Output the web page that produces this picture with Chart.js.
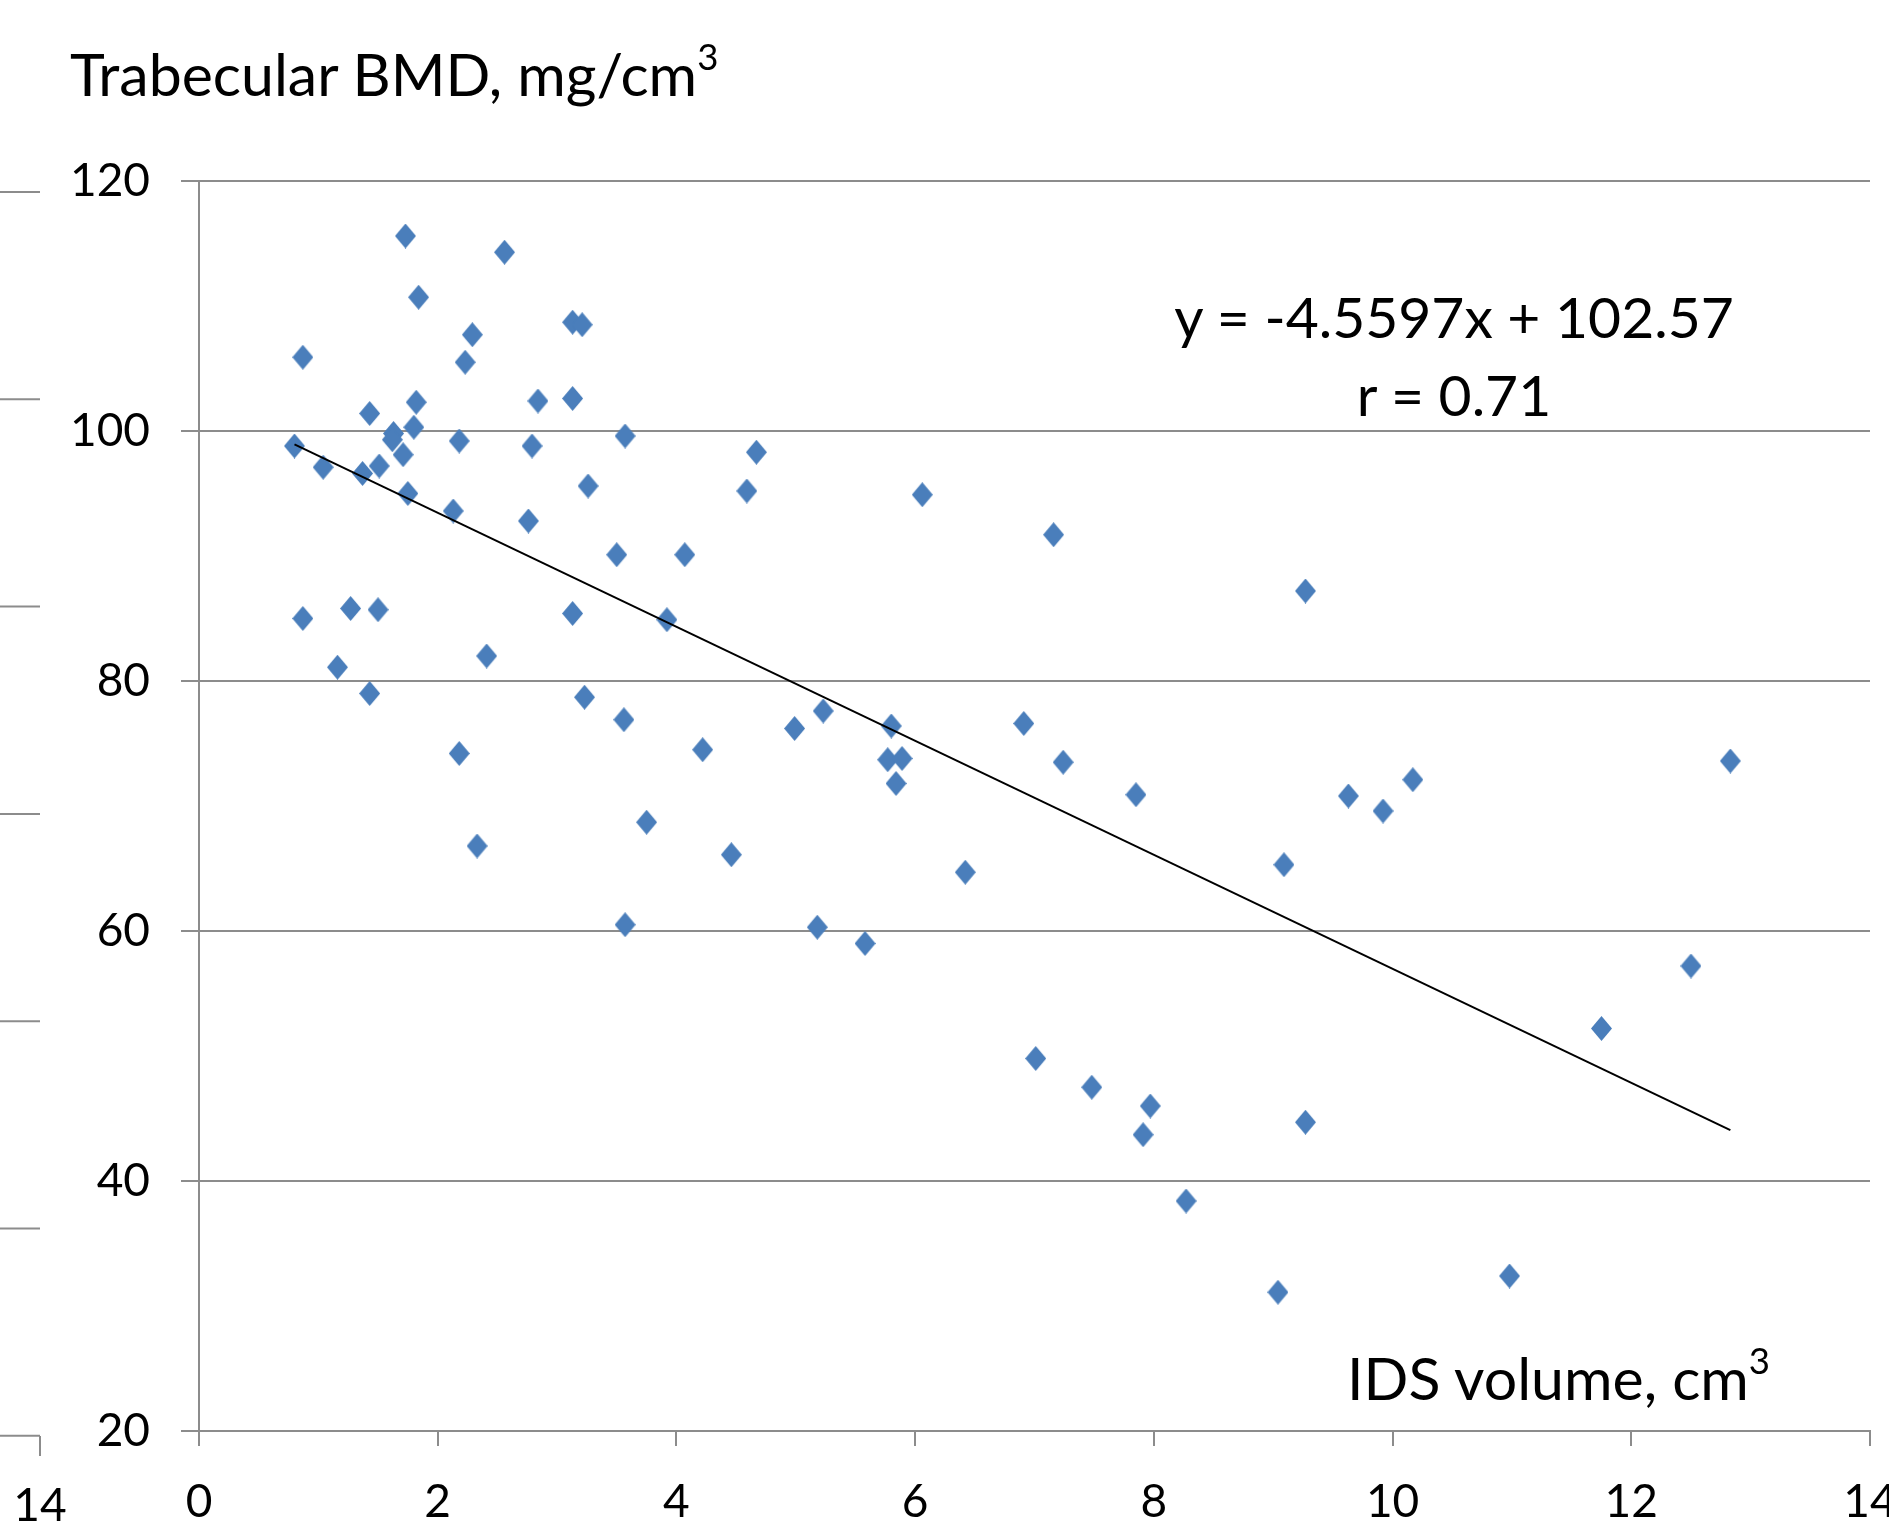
<!DOCTYPE html>
<html>
<head>
<meta charset="utf-8">
<script src="https://cdn.jsdelivr.net/npm/chart.js@4.4.0/dist/chart.umd.min.js"></script>
<style>
  html, body { margin: 0; padding: 0; background: #fff; }
  #wrap { position: relative; width: 1889px; height: 1523px; overflow: hidden; }
  #chart { position: absolute; left: 0; top: 0; }
  .lbl { position: absolute; font-family: Lato, "Open Sans", sans-serif; color: #000; white-space: nowrap; line-height: 1; }
  .lbl sup { font-size: 0.62em; vertical-align: 0.72em; line-height: 0; }
</style>
</head>
<body>
<div id="wrap">
  <canvas id="chart" width="1889" height="1523"></canvas>
  <div class="lbl" style="left:70px; top:44px; font-size:59px;">Trabecular BMD, mg/cm<sup>3</sup></div>
  <div class="lbl" style="left:1454px; top:277px; font-size:57px; line-height:78px; text-align:center; transform:translateX(-50%);">y = -4.5597x + 102.57<br>r = 0.71</div>
  <div class="lbl" style="left:1347px; top:1348px; font-size:59px;">IDS volume, cm<sup>3</sup></div>
  <div class="lbl" style="left:40px; top:1481px; font-size:46px; transform:translateX(-50%);">14</div>
</div>
<script>
// IDS volume (cm3) and trabecular BMD (mg/cm3)
const idsVolume = [
  0.80, 0.87, 0.87, 1.04, 1.16, 1.27, 1.37, 1.43, 1.43, 1.50,
  1.51, 1.63, 1.62, 1.71, 1.73, 1.75, 1.80, 1.82, 1.84, 2.13,
  2.18, 2.18, 2.23, 2.29, 2.33, 2.41, 2.56, 2.76, 2.79, 2.84,
  3.13, 3.21, 3.13, 3.13, 3.23, 3.26, 3.50, 3.57, 3.56, 3.57,
  3.75, 3.92, 4.07, 4.22, 4.46, 4.59, 4.67, 4.99, 5.18, 5.23,
  5.58, 5.77, 5.80, 5.89, 5.84, 6.06, 6.42, 6.91, 7.01, 7.16,
  7.24, 7.48, 7.85, 7.91, 7.97, 8.27, 9.04, 9.09, 9.27, 9.27,
  9.63, 9.92, 10.17, 10.98, 11.75, 12.50, 12.83
];
const trabBmd = [
  98.8, 105.9, 85.0, 97.1, 81.1, 85.8, 96.6, 101.4, 79.0, 85.7,
  97.2, 99.8, 99.3, 98.1, 115.6, 95.0, 100.3, 102.3, 110.7, 93.6,
  99.2, 74.2, 105.5, 107.7, 66.8, 82.0, 114.3, 92.8, 98.8, 102.4,
  108.7, 108.5, 102.6, 85.4, 78.7, 95.6, 90.1, 99.6, 76.9, 60.5,
  68.7, 84.9, 90.1, 74.5, 66.1, 95.2, 98.3, 76.2, 60.3, 77.6,
  59.0, 73.7, 76.4, 73.8, 71.8, 94.9, 64.7, 76.6, 49.8, 91.7,
  73.5, 47.5, 70.9, 43.7, 46.0, 38.4, 31.1, 65.3, 87.2, 44.7,
  70.8, 69.6, 72.1, 32.4, 52.2, 57.2, 73.6
];

// trend line from the equation printed on the chart
const slope = -4.5597;
const intercept = 102.57;
const trendX = [Math.min(...idsVolume), Math.max(...idsVolume)];
const trendY = trendX.map(x => slope * x + intercept);

const xTicks = [0, 2, 4, 6, 8, 10, 12, 14];
const yTicks = [20, 40, 60, 80, 100, 120];

const GRID = "#8c8c8c";
const BLUE = "#4a7ebb";

// diamond marker, a bit taller than wide like the Excel one
function makeDiamond(w, h, color) {
  const c = document.createElement("canvas");
  c.width = w; c.height = h;
  const g = c.getContext("2d");
  g.fillStyle = color;
  g.beginPath();
  g.moveTo(w / 2, 0);
  g.lineTo(w, h / 2);
  g.lineTo(w / 2, h);
  g.lineTo(0, h / 2);
  g.closePath();
  g.fill();
  return c;
}
const diamond = makeDiamond(21, 25, BLUE);

// leftover axis ticks from the chart behind (left strip)
const ghostAxis = {
  id: "ghostAxis",
  afterDraw(chart) {
    const ctx = chart.ctx;
    ctx.save();
    ctx.strokeStyle = GRID;
    ctx.lineWidth = 2;
    for (let i = 0; i < 7; i++) {
      const y = 192 + i * 207.3;
      ctx.beginPath();
      ctx.moveTo(0, y);
      ctx.lineTo(40, y);
      ctx.stroke();
    }
    ctx.beginPath();
    ctx.moveTo(40, 1436);
    ctx.lineTo(40, 1456);
    ctx.stroke();
    ctx.restore();
  }
};

const tickFont = { family: "Lato, 'Open Sans', sans-serif", size: 46 };

new Chart(document.getElementById("chart"), {
  type: "scatter",
  data: {
    datasets: [
      {
        data: idsVolume.map((x, i) => ({ x, y: trabBmd[i] })),
        pointStyle: diamond,
        pointRadius: 12,
        backgroundColor: BLUE,
        borderWidth: 0,
        order: 1
      },
      {
        type: "line",
        data: trendX.map((x, i) => ({ x, y: trendY[i] })),
        borderColor: "#000",
        borderWidth: 2,
        pointRadius: 0,
        fill: false,
        order: 0
      }
    ]
  },
  options: {
    responsive: false,
    animation: false,
    devicePixelRatio: 1,
    layout: { padding: { top: 181, right: 19, bottom: 0, left: 0 } },
    plugins: { legend: { display: false }, tooltip: { enabled: false } },
    scales: {
      x: {
        type: "linear",
        min: xTicks[0],
        max: xTicks[xTicks.length - 1],
        afterBuildTicks: s => { s.ticks = xTicks.map(v => ({ value: v })); },
        ticks: { font: tickFont, color: "#000", padding: 29, maxRotation: 0 },
        grid: { drawOnChartArea: false, drawTicks: true, tickLength: 15, color: GRID, lineWidth: 2 },
        border: { display: true, color: GRID, width: 2 },
        afterFit: s => { s.height = 92; s.paddingLeft = 0; s.paddingRight = 0; }
      },
      y: {
        type: "linear",
        min: yTicks[0],
        max: yTicks[yTicks.length - 1],
        afterBuildTicks: s => { s.ticks = yTicks.map(v => ({ value: v })); },
        ticks: { font: tickFont, color: "#000", padding: 31 },
        grid: { color: GRID, lineWidth: 2, tickLength: 18 },
        border: { display: true, color: GRID, width: 2 },
        afterFit: s => { s.width = 199; }
      }
    }
  },
  plugins: [ghostAxis]
});
</script>
</body>
</html>
